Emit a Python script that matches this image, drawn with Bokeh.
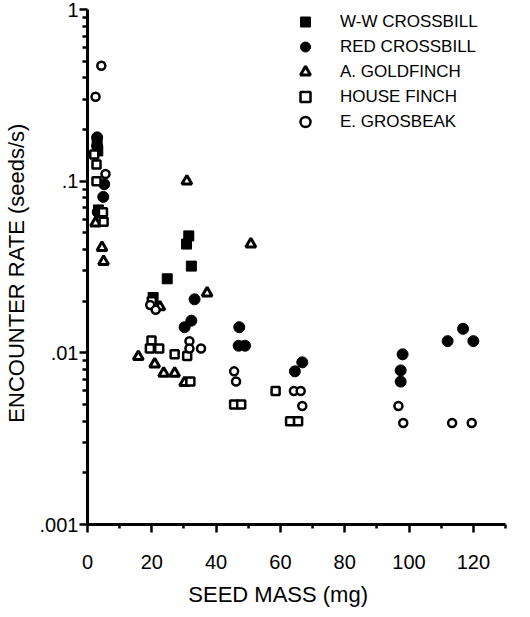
from bokeh.plotting import figure
from bokeh.models import Range1d, FixedTicker, Legend, LegendItem
from bokeh.embed import file_html
from bokeh.resources import INLINE

FONT = "Liberation Sans"

# ---- data (seed mass in mg, encounter rate in seeds/s) ----
ww_mass = [3.0, 3.2, 3.4, 20.4, 24.8, 31.5, 30.8, 32.3]
ww_rate = [0.17, 0.15, 0.068, 0.021, 0.027, 0.048, 0.043, 0.032]

red_mass = [3.0, 3.0, 5.2, 4.9, 3.2, 33.3, 32.3, 30.2, 47.2, 47.0, 49.0,
            66.8, 64.5, 98.0, 97.4, 97.4, 112.0, 116.8, 120.0]
red_rate = [0.18, 0.16, 0.096, 0.081, 0.066, 0.0205, 0.0154, 0.0141, 0.0141,
            0.011, 0.011, 0.0088, 0.0078, 0.0098, 0.0079, 0.0068, 0.0117,
            0.0138, 0.0117]

gold_mass = [2.5, 4.5, 5.0, 30.9, 50.8, 37.2, 22.5, 15.8, 20.9, 23.7, 27.1, 30.2]
gold_rate = [0.057, 0.041, 0.034, 0.1, 0.043, 0.0223, 0.0185, 0.0095, 0.0086,
             0.0076, 0.0076, 0.0067]

house_mass = [2.1, 2.8, 2.8, 4.8, 5.0, 20.0, 19.9, 19.4, 22.3, 27.1, 31.0, 32.0,
              45.6, 47.8, 58.5, 63.0, 65.5]
house_rate = [0.143, 0.125, 0.1, 0.066, 0.058, 0.02, 0.0118, 0.0106, 0.0106,
              0.0098, 0.0096, 0.0068, 0.005, 0.005, 0.006, 0.004, 0.004]

gros_mass = [4.3, 2.5, 5.6, 19.5, 21.2, 31.7, 31.7, 35.3, 45.6, 46.2, 64.2,
             66.3, 66.8, 96.7, 98.2, 113.4, 119.5]
gros_rate = [0.47, 0.31, 0.11, 0.019, 0.0178, 0.0117, 0.0106, 0.0106, 0.0078,
             0.0068, 0.006, 0.006, 0.0049, 0.0049, 0.0039, 0.0039, 0.0039]

series_names = ["W-W CROSSBILL", "RED CROSSBILL", "A. GOLDFINCH", "HOUSE FINCH", "E. GROSBEAK"]

x_ticks = [0, 20, 40, 60, 80, 100, 120]
x_minor = [10, 30, 50, 70, 90, 110, 130]
y_ticks = [0.001, 0.01, 0.1, 1]
y_tick_labels = [".001", ".01", ".1", "1"]
y_minor = [m * d for d in [0.001, 0.01, 0.1] for m in range(2, 10)]

p = figure(width=514, height=609, output_backend="svg", toolbar_location=None,
           y_axis_type="log", x_range=Range1d(0, 130), y_range=Range1d(0.001, 1),
           min_border_left=86, min_border_right=9, min_border_top=9,
           min_border_bottom=84)
p.outline_line_color = None
p.xgrid.visible = False
p.ygrid.visible = False
p.background_fill_color = "white"

r_ww = p.scatter(ww_mass, ww_rate, marker="square", size=10, fill_color="black",
                 line_color="black", line_width=1)
r_red = p.scatter(red_mass, red_rate, marker="circle", size=11, fill_color="black",
                  line_color="black", line_width=1)
r_gold = p.scatter(gold_mass, gold_rate, marker="triangle", size=10, fill_color="white",
                   line_color="black", line_width=3)
r_house = p.scatter(house_mass, house_rate, marker="square", size=8, fill_color="white",
                    line_color="black", line_width=2.5)
r_gros = p.scatter(gros_mass, gros_rate, marker="circle", size=8, fill_color="white",
                   line_color="black", line_width=2.5)

for ax in (p.xaxis[0], p.yaxis[0]):
    ax.axis_line_width = 3
    ax.axis_line_color = "black"
    ax.major_tick_line_width = 2.5
    ax.minor_tick_line_width = 2.5
    ax.major_tick_in = 0
    ax.minor_tick_in = 0
    ax.major_label_text_font = FONT
    ax.major_label_text_font_size = "20px"
    ax.major_label_text_color = "black"
    ax.axis_label_text_font = FONT
    ax.axis_label_text_font_style = "normal"
    ax.axis_label_text_font_size = "22px"
    ax.axis_label_text_color = "black"

xa = p.xaxis[0]
xa.ticker = FixedTicker(ticks=x_ticks, minor_ticks=x_minor)
xa.major_tick_out = 8
xa.minor_tick_out = 4
xa.major_label_standoff = 22
xa.axis_label = "SEED  MASS  (mg)" + "\u00a0" * 4
xa.axis_label_standoff = 10

ya = p.yaxis[0]
ya.ticker = FixedTicker(ticks=y_ticks, minor_ticks=y_minor)
ya.major_label_overrides = {t: l for t, l in zip(y_ticks, y_tick_labels)}
ya.major_tick_out = 8
ya.minor_tick_out = 5
ya.major_label_standoff = 1
ya.axis_label = "ENCOUNTER  RATE  (seeds/s)"
ya.axis_label_standoff = 8

legend = Legend(items=[LegendItem(label=n, renderers=[r]) for n, r in
                       zip(series_names, [r_ww, r_red, r_gold, r_house, r_gros])],
                location=(204, 390), padding=0, margin=0, spacing=0,
                glyph_width=28, glyph_height=25, label_height=25,
                label_standoff=21, border_line_color=None,
                background_fill_alpha=0,
                label_text_font=FONT, label_text_font_size="17px",
                label_text_color="black")
p.add_layout(legend)

open("out.html", "w").write(file_html(p, INLINE))
